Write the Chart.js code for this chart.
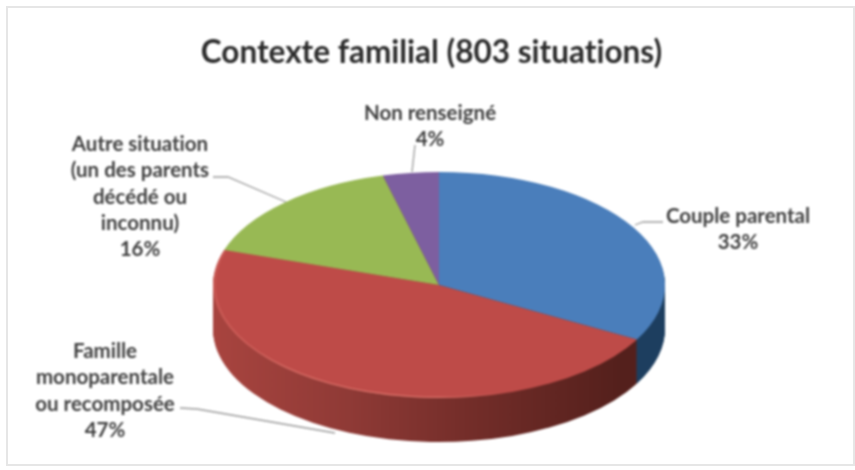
<!DOCTYPE html>
<html lang="fr">
<head>
<meta charset="utf-8">
<title>Contexte familial</title>
<script src="https://cdn.jsdelivr.net/npm/chart.js@4"></script>
<style>
  html, body { margin: 0; padding: 0; background: #fff; }
  #frame { position: relative; width: 855px; height: 470px; overflow: hidden; }
  #frame::before {
    content: "";
    position: absolute;
    left: 6px; top: 6px; right: 0; bottom: 4px;
    border: 2px solid #e6e6e6;
  }
  #pie { position: absolute; left: 0; top: 0; filter: blur(0.8px); }
</style>
</head>
<body>
<div id="frame"><canvas id="pie" width="855" height="470"></canvas></div>
<script>
const titleText = "Contexte familial (803 situations)";
const categories = [
  ["Couple parental"],
  ["Famille", "monoparentale", "ou recomposée"],
  ["Autre situation", "(un des parents", "décédé ou", "inconnu)"],
  ["Non renseigné"],
];
const shares = [33, 47, 16, 4];
const topColors = ["#4a7ebb", "#be4b48", "#98b954", "#7d5fa0"];

// Where the tilted disc sits on the page
const disc = { x: 439, y: 285, rx: 226, ry: 113, depth: 44 };

// Label centre and first line baseline, then the leader line for each slice
const labelSpots = [
  { x: 738, y: 223, line: [[635, 225], [643, 222], [663, 222]] },
  { x: 105, y: 358, line: [[180, 408], [197, 409], [335, 433]] },
  { x: 140, y: 151, line: [[213, 177], [228, 177], [286, 202]] },
  { x: 430, y: 120, line: [[415, 145], [412, 172]] },
];

function wallColor(ctx, arc, index) {
  const left = arc.x - arc.outerRadius;
  const right = arc.x + arc.outerRadius;
  const gradient = ctx.createLinearGradient(left, 0, right, 0);
  if (index === 0) {
    gradient.addColorStop(0, "#1d3e5f");
    gradient.addColorStop(1, "#1d3e5f");
  } else {
    gradient.addColorStop(0, "#a8443f");
    gradient.addColorStop(0.3, "#8f3a36");
    gradient.addColorStop(0.55, "#752e2a");
    gradient.addColorStop(0.9, "#54201c");
    gradient.addColorStop(1, "#54201c");
  }
  return gradient;
}

const tiltedDisc = {
  id: "tiltedDisc",
  beforeDraw(chart) {
    // no "ti" ligature, the original font does not join them
    chart.ctx.textRendering = "optimizeSpeed";
  },
  beforeDatasetsDraw(chart) {
    const ctx = chart.ctx;
    const arcs = chart.getDatasetMeta(0).data;
    const first = arcs[0];
    const scaleY = disc.ry / first.outerRadius;
    ctx.save();
    ctx.translate(disc.x, disc.y);
    ctx.scale(disc.rx / first.outerRadius, scaleY);
    ctx.translate(-first.x, -first.y);

    for (let d = disc.depth; d > 0; d--) {
      ctx.save();
      ctx.translate(0, d / scaleY);
      arcs.forEach((arc, index) => {
        const original = arc.options;
        arc.options = Object.assign({}, original, { backgroundColor: wallColor(ctx, arc, index) });
        arc.draw(ctx);
        arc.options = original;
      });
      ctx.restore();
    }
  },
  afterDatasetsDraw(chart) {
    const ctx = chart.ctx;
    const arcs = chart.getDatasetMeta(0).data;
    const red = arcs[1];
    const glow = ctx.createLinearGradient(red.x - red.outerRadius, 0, red.x + red.outerRadius * 0.3, 0);
    glow.addColorStop(0, "rgba(232,130,120,0.25)");
    glow.addColorStop(0.7, "rgba(232,130,120,0.9)");
    glow.addColorStop(1, "rgba(232,130,120,0)");
    ctx.beginPath();
    ctx.arc(red.x, red.y, red.outerRadius - 1, red.startAngle, red.endAngle);
    ctx.strokeStyle = glow;
    ctx.lineWidth = 2;
    ctx.stroke();
    ctx.restore();
  },
  afterDraw(chart) {
    const ctx = chart.ctx;
    ctx.save();
    labelSpots.forEach((spot) => {
      ctx.beginPath();
      spot.line.forEach(([x, y], i) => (i ? ctx.lineTo(x, y) : ctx.moveTo(x, y)));
      ctx.strokeStyle = "#9a9a9a";
      ctx.lineWidth = 1.3;
      ctx.stroke();
    });
    ctx.fillStyle = "#3f3f3f";
    ctx.font = "bold 20.5px Lato";
    ctx.textAlign = "center";
    ctx.textBaseline = "alphabetic";
    categories.forEach((lines, index) => {
      const spot = labelSpots[index];
      [...lines, `${shares[index]}%`].forEach((text, row) => {
        ctx.fillText(text, spot.x, spot.y + row * 26.3);
      });
    });
    ctx.restore();
  },
};

new Chart(document.querySelector("#pie"), {
  type: "pie",
  data: {
    labels: categories.map((lines) => lines.join(" ")),
    datasets: [
      {
        data: shares,
        backgroundColor: topColors,
        borderWidth: 0,
        clip: false,
      },
    ],
  },
  options: {
    responsive: false,
    animation: false,
    layout: { padding: { left: 8 } },
    plugins: {
      legend: { display: false },
      tooltip: { enabled: false },
      title: {
        display: true,
        text: titleText,
        color: "#2b2b2b",
        font: { family: "Lato", size: 31.5, weight: "bold" },
        padding: { top: 34, bottom: 10 },
      },
    },
  },
  plugins: [tiltedDisc],
});
</script>
</body>
</html>
